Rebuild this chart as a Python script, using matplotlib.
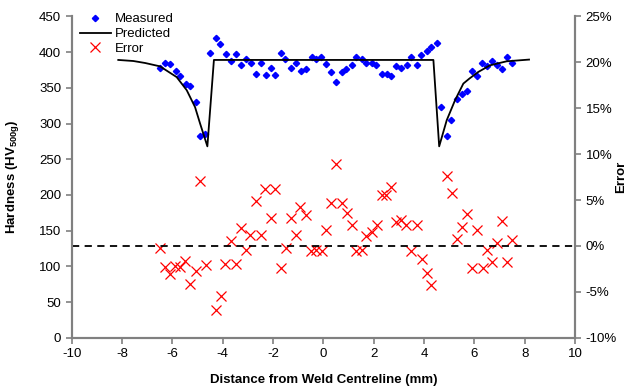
import numpy as np
import matplotlib.pyplot as plt
from matplotlib.ticker import FuncFormatter

plt.rcParams['font.family'] = ['Liberation Sans', 'DejaVu Sans']
plt.rcParams['mathtext.fontset'] = 'custom'
plt.rcParams['mathtext.rm'] = 'Liberation Sans'
plt.rcParams['mathtext.bf'] = 'Liberation Sans:bold'
plt.rcParams['axes.unicode_minus'] = False

# measured hardness (HV) vs distance (mm)
meas_x = [-6.49, -6.28, -6.09, -5.87, -5.69, -5.47, -5.30, -5.07, -4.90, -4.69,
          -4.51, -4.28, -4.10, -3.87, -3.68, -3.47, -3.28, -3.07, -2.88, -2.66,
          -2.49, -2.30, -2.09, -1.91, -1.69, -1.51, -1.29, -1.09, -0.88, -0.70,
          -0.47, -0.29, -0.08, 0.11, 0.32, 0.50, 0.72, 0.90, 1.13, 1.30,
          1.53, 1.71, 1.92, 2.10, 2.32, 2.52, 2.69, 2.90, 3.10, 3.32,
          3.49, 3.71, 3.89, 4.10, 4.26, 4.52, 4.69, 4.93, 5.08, 5.31,
          5.49, 5.72, 5.89, 6.10, 6.29, 6.51, 6.70, 6.91, 7.10, 7.31, 7.51]
meas_y = [378, 385, 383, 373, 366, 355, 352, 330, 283, 285,
          399, 420, 411, 397, 388, 397, 382, 391, 385, 370,
          385, 368, 378, 368, 399, 390, 378, 385, 374, 377,
          393, 390, 393, 383, 372, 358, 372, 377, 382, 393,
          391, 385, 385, 382, 369, 369, 366, 380, 378, 382,
          393, 382, 396, 401, 407, 413, 323, 283, 305, 334,
          342, 346, 374, 366, 385, 380, 388, 382, 376, 393, 385]

# predicted hardness profile
pred_x = [-8.15, -7.55, -7.08, -6.49, -5.83, -5.43, -5.10, -4.90, -4.61, -4.35,
          4.37, 4.60, 4.90, 5.23, 5.56, 5.80, 6.15, 6.62, 7.28, 8.17]
pred_y = [389, 387.5, 384.7, 380, 365, 346.6, 323, 300, 268, 389,
          389, 268, 304.6, 332.6, 355.9, 362.9, 372.1, 381.5, 387.1, 389.5]

# prediction error (%)
err_x = [-6.48, -6.29, -6.09, -5.90, -5.70, -5.49, -5.30, -5.07, -4.90, -4.68,
         -4.27, -4.08, -3.91, -3.68, -3.47, -3.28, -3.07, -2.91, -2.67, -2.49,
         -2.32, -2.09, -1.92, -1.70, -1.50, -1.29, -1.09, -0.91, -0.71, -0.51,
         -0.30, -0.07, 0.10, 0.29, 0.50, 0.72, 0.92, 1.12, 1.29, 1.52,
         1.69, 1.92, 2.12, 2.32, 2.49, 2.68, 2.90, 3.08, 3.28, 3.49,
         3.71, 3.91, 4.10, 4.29, 4.90, 5.10, 5.30, 5.49, 5.72, 5.89,
         6.12, 6.33, 6.51, 6.70, 6.91, 7.10, 7.31, 7.49]
err_y = [-0.2, -2.3, -3.1, -2.2, -2.3, -1.6, -4.1, -2.7, 7.1, -2.1,
         -7.0, -5.4, -2.0, 0.5, -2.0, 2.0, -0.4, 1.2, 4.9, 1.2,
         6.2, 3.0, 6.2, -2.4, -0.2, 3.0, 1.2, 4.2, 3.4, -0.6,
         -0.4, -0.6, 1.7, 4.7, 8.9, 4.7, 3.6, 2.3, -0.6, -0.4,
         1.1, 1.5, 2.3, 5.6, 5.6, 6.4, 2.6, 2.8, 2.3, -0.6,
         2.3, -1.4, -2.9, -4.3, 7.6, 5.8, 0.8, 2.1, 3.5, -2.4,
         1.7, -2.4, -0.4, -1.8, 0.3, 2.7, -1.8, 0.6]

fig = plt.figure(figsize=(6.38, 3.9), dpi=100)
ax = fig.add_axes([0.1124, 0.134, 0.789, 0.824])
ax2 = ax.twinx()

grey = '#808080'
h1, = ax.plot(meas_x, meas_y, 'D', color='#0000ff', markersize=3.2, linestyle='none', label='Measured')
h2, = ax.plot(pred_x, pred_y, '-', color='black', lw=1.3, label='Predicted')
h3, = ax2.plot(err_x, err_y, 'x', color='#ff0000', markersize=7.5, mew=0.9, linestyle='none', label='Error')
ax2.axhline(0, color='black', lw=1.3, ls=(0, (4, 3)))

ax.set_xlim(-10, 10)
ax.set_ylim(0, 450)
ax2.set_ylim(-10, 25)
ax.set_xticks(range(-10, 11, 2))
ax.set_yticks(range(0, 451, 50))
ax2.set_yticks(range(-10, 26, 5))
ax2.yaxis.set_major_formatter(FuncFormatter(lambda v, p: '%d%%' % v))

for a in (ax, ax2):
    a.spines['top'].set_visible(False)
    for s in ('left', 'right', 'bottom'):
        a.spines[s].set_color(grey)
        a.spines[s].set_linewidth(1.5)
    a.tick_params(colors=grey, labelcolor='black', labelsize=9.5, width=1.2, length=4, direction='out')

ax.set_xlabel('Distance from Weld Centreline (mm)', fontsize=9.5, fontweight='bold', labelpad=10)
ax.set_ylabel(r'Hardness (HV$_{\mathbf{500g}}$)', fontsize=9.5, fontweight='bold', labelpad=13)
ax2.set_ylabel('Error', fontsize=9.5, fontweight='bold', labelpad=-1)

ax.legend(handles=[h1, h2, h3], loc='upper left', bbox_to_anchor=(0.0, 1.035), frameon=False,
          fontsize=9.5, handlelength=2.4, labelspacing=0.2, borderaxespad=0.2, handletextpad=0.3)

fig.savefig('out.png', dpi=100)
